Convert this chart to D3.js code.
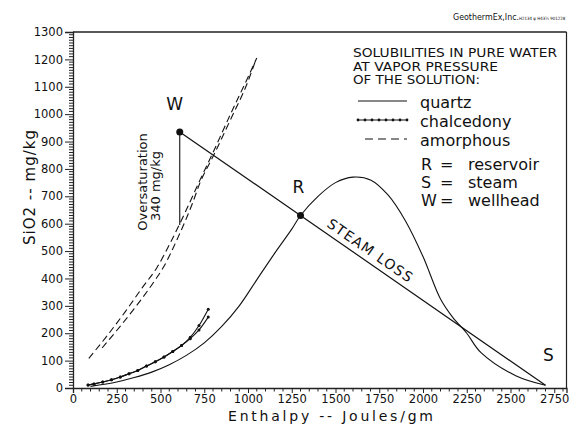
<!DOCTYPE html>
<html><head><meta charset="utf-8">
<script src="https://cdn.jsdelivr.net/npm/d3@7"></script>
<style>
html,body{margin:0;padding:0;background:#fff;}
svg text{font-family:"DejaVu Sans",sans-serif;fill:#111;}
</style></head>
<body>
<svg id="c" width="570" height="425"></svg>
<script>
// ---- data ----
const xTicks = [0,250,500,750,1000,1250,1500,1750,2000,2250,2500,2750];
const yTicks = [0,100,200,300,400,500,600,700,800,900,1000,1100,1200,1300];

const quartzX = [100,250,350,450,550,650,750,850,950,1050,1150,1250,1300,1400,1500,1600,1700,1800,1900,2000,2100,2170,2250,2330,2530,2700];
const quartzY = [6,22,38,58,85,120,165,225,300,395,490,580,630,700,750,770,760,705,610,480,325,258,200,130,45,10];

const chalc1X = [86,120,170,220,270,320,370,420,470,520,570,620,670,720,773];
const chalc1Y = [11,15,22,30,40,52,64,80,96,113,133,155,185,228,288];
const chalc2X = [86,120,170,220,270,320,370,420,470,520,570,620,670,720,773];
const chalc2Y = [11,15,22,30,40,52,64,80,96,113,133,155,180,212,259];

const amor1X = [90,200,300,400,480,560,640,726,800,900,1000,1050];
const amor1Y = [108,195,280,370,440,535,640,760,860,1000,1135,1205];
const amor2X = [166,250,350,469,514,600,680,726,800,900,1000,1040];
const amor2Y = [146,210,290,394,438,550,670,750,845,980,1120,1190];

const pointNames = ["W","R","S"];
const pointX = [610,1300,2700];
const pointY = [935,630,10];
const overSatBottom = 595;

// ---- setup ----
const svg = d3.select("#c");
const x = d3.scaleLinear().domain([0,2820]).range([73,566.5]);
const y = d3.scaleLinear().domain([0,1300]).range([388,32]);
const line = d3.line().x(d=>x(d[0])).y(d=>y(d[1]));
const zip = (a,b)=>a.map((v,i)=>[v,b[i]]);

// frame
svg.append("line").attr("x1",x(0)).attr("x2",566.5).attr("y1",y(1300)).attr("y2",y(1300)).attr("stroke","#222").attr("stroke-width",1.3);
svg.append("line").attr("x1",566.5).attr("x2",566.5).attr("y1",y(1300)).attr("y2",y(0)).attr("stroke","#222").attr("stroke-width",1.2);

// axes
const xAxis = d3.axisBottom(x).tickValues(xTicks).tickSize(5).tickPadding(2).tickFormat(d3.format("d"));
const gx = svg.append("g").attr("transform",`translate(0,${y(0)})`).call(xAxis);
const xMinor = d3.range(0,2801,50).filter(v=>v%250!==0);
gx.selectAll(".minor").data(xMinor).enter().append("line").attr("class","minor")
  .attr("x1",d=>x(d)).attr("x2",d=>x(d)).attr("y1",0).attr("y2",3.5).attr("stroke","#222");
const yAxis = d3.axisLeft(y).tickValues(yTicks).tickSize(8).tickPadding(2).tickFormat(d3.format("d"));
const gy = svg.append("g").attr("transform",`translate(${x(0)},0)`).call(yAxis);
const yMinor = d3.range(0,1301,10).filter(v=>v%100!==0);
gy.selectAll(".minor").data(yMinor).enter().append("line").attr("class","minor")
  .attr("x1",0).attr("x2",-4).attr("y1",d=>y(d)).attr("y2",d=>y(d)).attr("stroke","#222");
[gx,gy].forEach(g=>{
  g.select(".domain").attr("stroke","#222").attr("stroke-width",1.3);
  g.selectAll(".tick line").attr("stroke","#222");
  g.selectAll(".tick text").style("font-family","DejaVu Sans").style("font-size","11.5px").attr("fill","#111");
});

// curves
svg.append("path").attr("d",line.curve(d3.curveCatmullRom.alpha(0.5))(zip(quartzX,quartzY))).attr("fill","none").attr("stroke","#111").attr("stroke-width",1.1);
[[chalc1X,chalc1Y],[chalc2X,chalc2Y]].forEach(([a,b])=>{
  svg.append("path").attr("d",line.curve(d3.curveMonotoneX)(zip(a,b))).attr("fill","none").attr("stroke","#111").attr("stroke-width",1.1);
  svg.append("g").selectAll("circle").data(zip(a,b)).enter().append("circle")
    .attr("cx",d=>x(d[0])).attr("cy",d=>y(d[1])).attr("r",1.5).attr("fill","#111");
});
[[amor1X,amor1Y],[amor2X,amor2Y]].forEach(([a,b])=>{
  svg.append("path").attr("d",line.curve(d3.curveMonotoneX)(zip(a,b))).attr("fill","none").attr("stroke","#111").attr("stroke-width",1.1).attr("stroke-dasharray","7,4");
});
line.curve(d3.curveLinear);

// steam loss line and oversaturation
svg.append("path").attr("d",line(zip(pointX,pointY))).attr("fill","none").attr("stroke","#111").attr("stroke-width",1.2);
svg.append("line").attr("x1",x(pointX[0])).attr("x2",x(pointX[0])).attr("y1",y(pointY[0])).attr("y2",y(overSatBottom)).attr("stroke","#111").attr("stroke-width",1.1);
svg.selectAll(".pt").data([0,1]).enter().append("circle").attr("class","pt")
  .attr("cx",i=>x(pointX[i])).attr("cy",i=>y(pointY[i])).attr("r",3.5).attr("fill","#111");

// point labels
const lblOff = [[-5,-22],[-2,-22],[3,-24]];
pointNames.forEach((n,i)=>{
  svg.append("text").attr("x",x(pointX[i])+lblOff[i][0]).attr("y",y(pointY[i])+lblOff[i][1])
    .attr("text-anchor","middle").style("font-size","17px").text(n);
});

// steam loss text
const ang = Math.atan2(y(pointY[2])-y(pointY[0]), x(pointX[2])-x(pointX[0]))*180/Math.PI;
svg.append("text").attr("transform",`translate(326,226) rotate(${ang})`).style("font-size","14px")
  .attr("textLength",100).attr("lengthAdjust","spacing").text("STEAM  LOSS");

// oversaturation text
svg.append("text").attr("transform","translate(147,182) rotate(-90)").attr("text-anchor","middle").style("font-size","13px").text("Oversaturation");
svg.append("text").attr("transform","translate(160,186) rotate(-90)").attr("text-anchor","middle").style("font-size","13px").text("340  mg/kg");

// axis titles
svg.append("text").attr("x",228).attr("y",421).style("font-size","14px")
  .attr("textLength",205).attr("lengthAdjust","spacing").text("Enthalpy  --  Joules/gm");
svg.append("text").attr("transform","translate(35,245) rotate(-90)").style("font-size","15px")
  .attr("textLength",115).attr("lengthAdjust","spacing").text("SiO2  --  mg/kg");

// header (single text element)
const hdr = svg.append("text").attr("x",453).attr("y",20)
  .style("font-family","'DejaVu Sans Condensed','DejaVu Sans',sans-serif").style("font-size","8.8px");
hdr.append("tspan").text("GeothermEx,Inc.");
hdr.append("tspan").style("font-size","4.4px").text("H2134 \u03C8 H43\u00BC 901228");

// legend
const title = ["SOLUBILITIES IN PURE WATER","AT VAPOR PRESSURE","OF THE SOLUTION:"];
const titleW = [204,145,127];
title.forEach((t,i)=>svg.append("text").attr("x",353).attr("y",57+i*13.5).style("font-size","12px")
  .attr("textLength",titleW[i]).attr("lengthAdjust","spacingAndGlyphs").text(t));
const legNames = ["quartz","chalcedony","amorphous"];
legNames.forEach((t,i)=>{
  svg.append("text").attr("x",420).attr("y",108+i*19).style("font-size","16px").text(t);
});
svg.append("line").attr("x1",358).attr("x2",407).attr("y1",101).attr("y2",101).attr("stroke","#111").attr("stroke-width",1.1);
svg.append("line").attr("x1",358).attr("x2",407).attr("y1",120).attr("y2",120).attr("stroke","#111").attr("stroke-width",1.1);
svg.selectAll(".ld").data(d3.range(358,408,7)).enter().append("circle").attr("class","ld").attr("cx",d=>d).attr("cy",120).attr("r",1.4).attr("fill","#111");
svg.append("line").attr("x1",365).attr("x2",407).attr("y1",139).attr("y2",139).attr("stroke","#111").attr("stroke-width",1.1).attr("stroke-dasharray","8,5");
const abbr = [["R","reservoir"],["S","steam"],["W","wellhead"]];
abbr.forEach((a,i)=>{
  const yy = 170+i*18;
  svg.append("text").attr("x",421).attr("y",yy).style("font-size","16px").text(a[0]);
  svg.append("text").attr("x",440).attr("y",yy).style("font-size","16px").text("=");
  svg.append("text").attr("x",468).attr("y",yy).style("font-size","16px").text(a[1]);
});
</script>
</body></html>
